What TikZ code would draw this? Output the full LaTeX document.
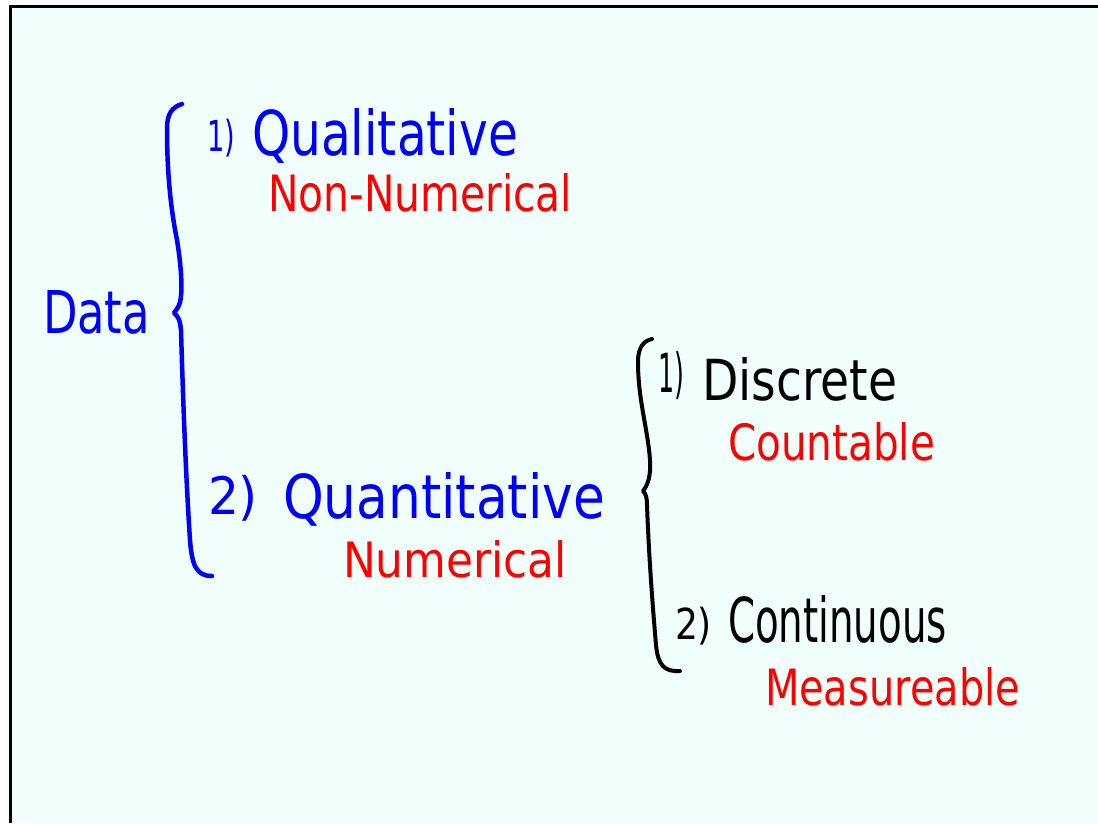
\documentclass[tikz,border=0pt]{standalone}
\usepackage{fontspec}
\setmainfont{DejaVu Sans}
\usepackage{graphicx}
\definecolor{bg}{RGB}{240,255,252}
\definecolor{inkblue}{RGB}{0,0,250}
\definecolor{inkred}{RGB}{255,0,0}
\newcommand\fitbox[3]{\resizebox{#1pt}{#2pt}{#3}}
\newcommand\fitall[3]{\resizebox*{#1pt}{#2pt}{#3}}
\begin{document}
\begin{tikzpicture}[x=1pt,y=-1pt,
  lbl/.style={anchor=base west, inner sep=0pt, outer sep=0pt},
  numlbl/.style={anchor=south west, inner sep=0pt, outer sep=0pt},
  bracestroke/.style={line width=4.5pt, line cap=round, line join=round}]
\useasboundingbox (0,0) rectangle (1098,823);
\fill[bg] (10,5) rectangle (1098,823);
\draw[line width=3pt] (10.5,823) -- (10.5,6.5) -- (1098,6.5);

\node[lbl, text=inkblue] (data) at (43,333) {\fitbox{107}{43}{Data}};

\node[numlbl, text=inkblue] (qualnum) at (207,157) {\fitall{28}{38}{1)}};
\node[lbl, text=inkblue] (qual) at (252,155) {\fitbox{266}{47}{Qualitative}};
\node[lbl, text=inkred] (nonnum) at (268,211) {\fitbox{304}{38}{Non-Numerical}};

\node[numlbl, text=inkblue] (quantnum) at (208,521) {\fitall{50}{46}{2)}};
\node[lbl, text=inkblue] (quant) at (283,518) {\fitbox{322}{46}{Quantitative}};
\node[lbl, text=inkred] (num) at (343,577) {\fitbox{224}{37}{Numerical}};

\node[numlbl] (discnum) at (658,400) {\fitall{26}{48}{1)}};
\node[lbl] (disc) at (702,400) {\fitbox{195}{43}{Discrete}};
\node[lbl, text=inkred] (count) at (728,460) {\fitbox{207}{38}{Countable}};

\node[numlbl] (contnum) at (675,645) {\fitall{37}{38}{2)}};
\node[lbl] (cont) at (728,642) {\fitbox{219}{47}{Continuous}};
\node[lbl, text=inkred] (meas) at (765,705) {\fitbox{255}{38}{Measureable}};

\draw[bracestroke, inkblue] (182,104) .. controls (172,107) and (167,114) .. (167,128)
  .. controls (167,180) and (172,215) .. (177,240)
  .. controls (181,265) and (183,290) .. (180,302)
  .. controls (179,307) and (176,310) .. (174,313)
  .. controls (178,316) and (180,320) .. (181,330)
  .. controls (183,400) and (186,480) .. (190,540)
  .. controls (192,565) and (196,576) .. (212,576);

\draw[bracestroke, black, line width=4pt] (652,339) .. controls (643,341) and (638,348) .. (638,362)
  .. controls (638,400) and (648,430) .. (650,460)
  .. controls (651,475) and (648,485) .. (643,491)
  .. controls (646,494) and (647,498) .. (647,505)
  .. controls (649,560) and (653,610) .. (656,645)
  .. controls (658,665) and (664,672) .. (680,671);
\end{tikzpicture}
\end{document}
